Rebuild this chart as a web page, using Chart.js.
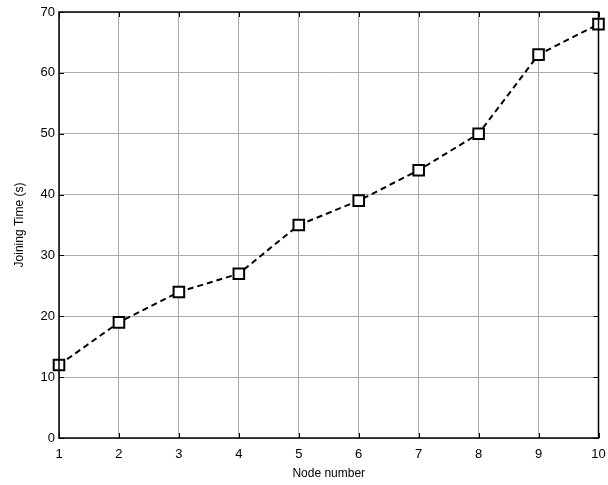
<!DOCTYPE html>
<html>
<head>
<meta charset="utf-8">
<script src="https://cdn.jsdelivr.net/npm/chart.js@4"></script>
<style>
  html, body { margin: 0; padding: 0; background: #fff; }
  #wrap { width: 608px; height: 485px; }
</style>
</head>
<body>
<div id="wrap"><canvas id="chart" width="608" height="485"></canvas></div>
<script>
// Data
const nodeNumbers = [1, 2, 3, 4, 5, 6, 7, 8, 9, 10];
const joiningTimes = [12, 19, 24, 27, 35, 39, 44, 50, 63, 68];
const xLabel = 'Node number';
const yLabel = 'Joining Time (s)';

// Box + small inward tick marks, MATLAB style
const boxPlugin = {
    id: 'box',
    afterDraw(chart) {
        const ctx = chart.ctx;
        const a = chart.chartArea;
        const xs = chart.scales.x;
        const ys = chart.scales.y;
        ctx.save();
        ctx.strokeStyle = '#000';
        ctx.lineWidth = 1;
        ctx.beginPath();
        xs.ticks.forEach(t => {
            const px = Math.round(xs.getPixelForValue(t.value)) + 0.5;
            ctx.moveTo(px, a.bottom); ctx.lineTo(px, a.bottom - 5);
            ctx.moveTo(px, a.top); ctx.lineTo(px, a.top + 5);
        });
        ys.ticks.forEach(t => {
            const py = Math.round(ys.getPixelForValue(t.value)) + 0.5;
            ctx.moveTo(a.left, py); ctx.lineTo(a.left + 5, py);
            ctx.moveTo(a.right, py); ctx.lineTo(a.right - 5, py);
        });
        ctx.stroke();
        ctx.lineWidth = 1.5;
        ctx.strokeRect(a.left, a.top, a.right - a.left, a.bottom - a.top);
        ctx.restore();
    }
};

const ctx = document.getElementById('chart').getContext('2d');
new Chart(ctx, {
    type: 'line',
    data: {
        datasets: [{
            data: nodeNumbers.map((n, i) => ({ x: n, y: joiningTimes[i] })),
            borderColor: '#000',
            borderWidth: 2,
            borderDash: [6, 4],
            pointStyle: 'rect',
            pointRadius: 7.5,
            pointBorderWidth: 2,
            pointBackgroundColor: '#fff',
            pointBorderColor: '#000',
            tension: 0,
            clip: false
        }]
    },
    plugins: [boxPlugin],
    options: {
        responsive: false,
        animation: false,
        layout: { padding: { top: 12, right: 9, left: 0, bottom: 0 } },
        plugins: {
            legend: { display: false },
            tooltip: { enabled: false }
        },
        scales: {
            x: {
                type: 'linear',
                min: 1,
                max: 10,
                afterFit(scale) {
                    scale.height = 47;
                    scale.paddingLeft = 0;
                    scale.paddingRight = 0;
                },
                ticks: { stepSize: 1, color: '#000', font: { family: 'Liberation Sans, Arial', size: 13 }, padding: 9 },
                grid: { color: '#aaa', borderDash: [1, 1], drawTicks: false },
                border: { display: false },
                title: { display: true, text: xLabel, color: '#000', font: { family: 'Liberation Sans, Arial', size: 12 }, padding: { top: 3 } }
            },
            y: {
                min: 0,
                max: 70,
                afterFit(scale) {
                    scale.width = 59;
                    scale.paddingTop = 0;
                    scale.paddingBottom = 0;
                },
                ticks: { stepSize: 10, color: '#000', font: { family: 'Liberation Sans, Arial', size: 13 }, padding: 4 },
                grid: { color: '#aaa', borderDash: [1, 1], drawTicks: false },
                border: { display: false },
                title: { display: true, text: yLabel, color: '#000', font: { family: 'Liberation Sans, Arial', size: 12 }, padding: { top: 12, bottom: 6 } }
            }
        }
    }
});
</script>
</body>
</html>
